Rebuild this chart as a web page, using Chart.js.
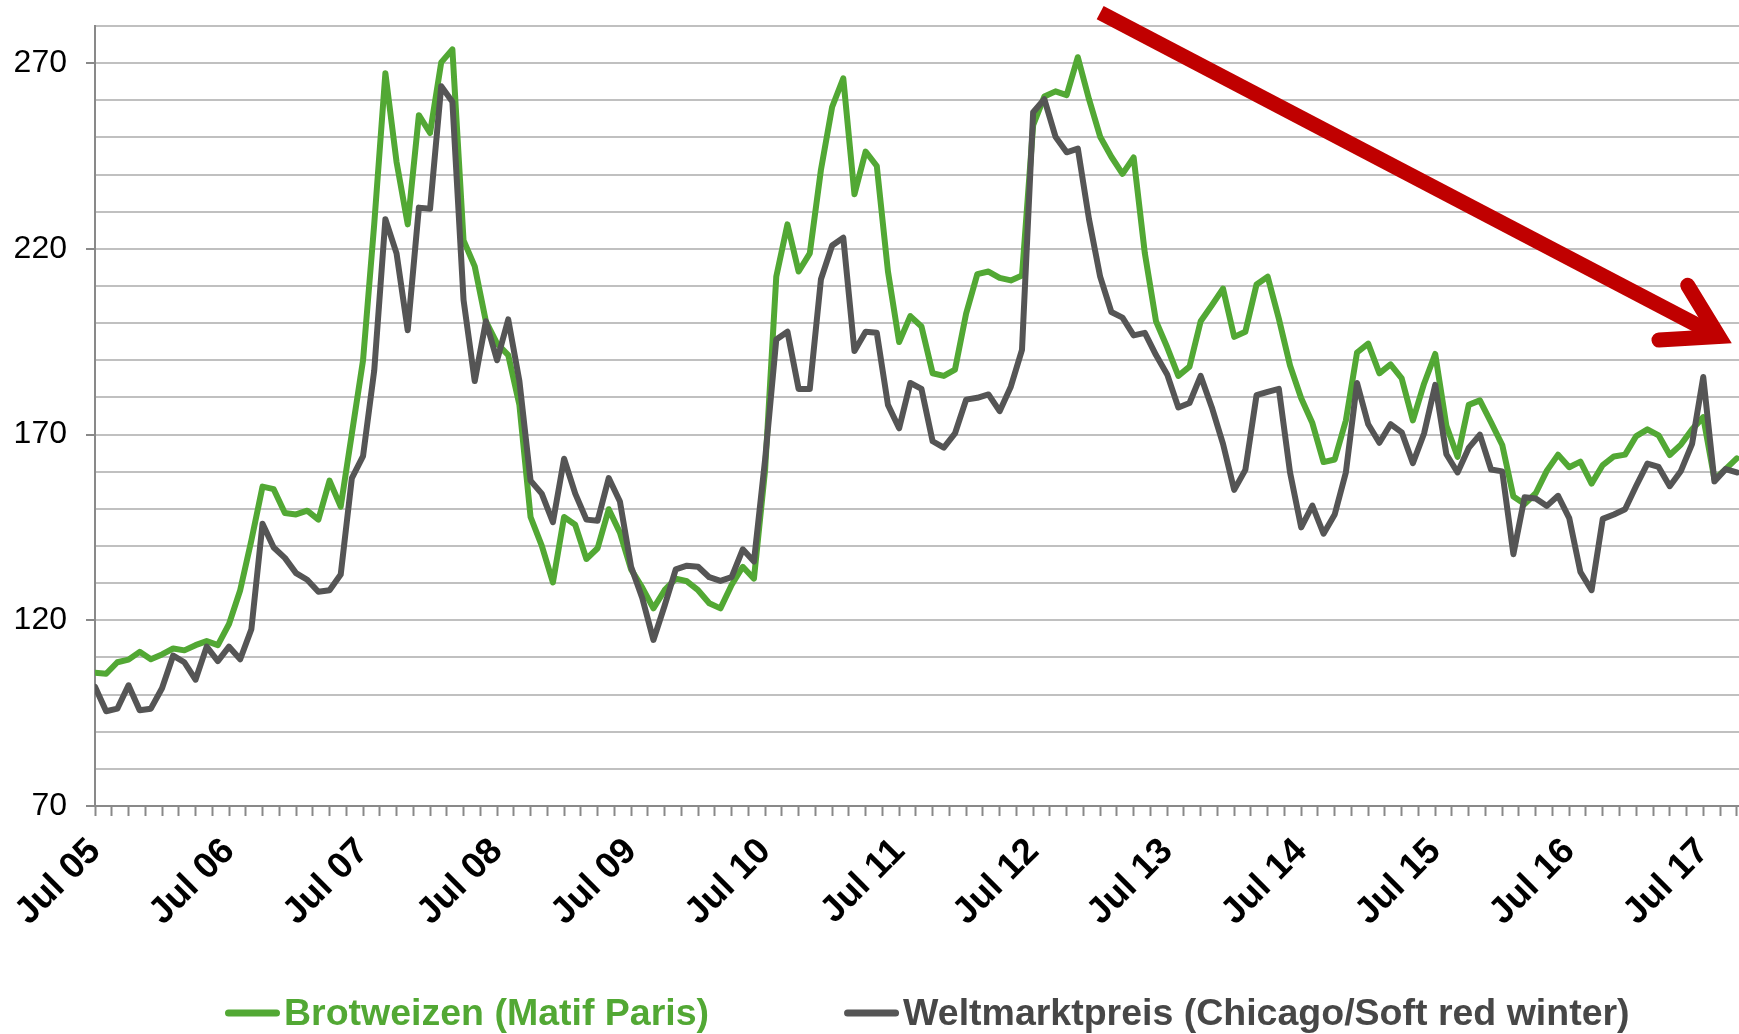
<!DOCTYPE html>
<html>
<head>
<meta charset="utf-8">
<title>Weizenpreise</title>
<script src="https://cdn.jsdelivr.net/npm/chart.js@4.4.1/dist/chart.umd.min.js"></script>
<style>
  html, body { margin: 0; padding: 0; background: #fff; }
  #chart { display: block; }
</style>
</head>
<body>
<canvas id="chart" width="1739" height="1034"></canvas>
<script>
// monthly prices, Jul 05 .. Oct 17 (one value per month)
var brotweizen = [
  105.9, 105.6, 108.7, 109.4, 111.5, 109.5, 110.8, 112.4, 111.9, 113.3, 114.4, 113.3,
  119.0, 128.1, 141.5, 156.0, 155.3, 148.9, 148.5, 149.5, 147.1, 157.6, 150.6, 170.3,
  190.0, 226.6, 267.3, 243.4, 226.6, 256.0, 251.2, 270.2, 273.7, 222.3, 215.3, 200.5,
  194.5, 191.4, 178.0, 147.8, 140.1, 130.2, 147.8, 145.7, 136.5, 139.4, 149.9, 143.6,
  133.7, 128.8, 123.2, 128.1, 131.2, 130.5, 128.1, 124.6, 123.2, 129.5, 134.4, 131.2,
  160.5, 212.5, 226.6, 213.9, 218.8, 241.3, 258.2, 265.9, 234.7, 246.2, 242.3, 213.9,
  194.9, 201.9, 199.1, 186.5, 185.8, 187.5, 202.6, 213.2, 213.9, 212.2, 211.5, 212.8,
  253.3, 261.0, 262.4, 261.4, 271.6, 260.3, 250.2, 244.8, 240.2, 244.6, 218.8, 200.5,
  193.5, 185.8, 188.3, 200.5, 204.8, 209.3, 196.3, 197.7, 210.4, 212.5, 201.2, 188.6,
  179.8, 173.1, 162.6, 163.3, 173.8, 192.1, 194.5, 186.5, 188.9, 185.1, 173.8, 183.7,
  191.7, 172.4, 164.0, 178.0, 179.2, 173.3, 167.2, 153.3, 151.3, 154.2, 160.3, 164.6,
  161.2, 162.7, 156.8, 161.8, 164.1, 164.6, 169.6, 171.4, 169.8, 164.5, 167.3, 171.4,
  174.7, 158.0, 160.7, 163.6
];
var weltmarkt = [
  102.1, 95.5, 96.2, 102.5, 95.8, 96.2, 101.7, 110.5, 108.7, 104.0, 112.9, 109.0,
  112.9, 109.5, 117.6, 146.0, 139.6, 136.8, 132.7, 130.9, 127.7, 128.1, 132.3, 158.3,
  164.2, 187.2, 228.0, 218.8, 198.1, 231.1, 230.8, 263.8, 259.6, 206.2, 184.4, 200.5,
  190.0, 201.0, 184.4, 157.6, 154.1, 146.4, 163.5, 154.1, 147.1, 146.8, 158.3, 152.0,
  134.4, 126.0, 114.7, 123.9, 133.7, 134.7, 134.4, 131.6, 130.6, 131.6, 139.1, 135.8,
  163.3, 195.6, 197.7, 182.3, 182.3, 211.8, 220.9, 223.0, 192.5, 197.7, 197.4, 178.0,
  171.7, 183.9, 182.3, 168.2, 166.5, 170.3, 179.4, 179.9, 180.8, 176.3, 182.9, 192.8,
  256.8, 260.3, 250.2, 246.0, 247.0, 228.0, 212.5, 203.0, 201.5, 196.7, 197.4, 191.4,
  186.2, 177.3, 178.5, 185.8, 177.3, 167.5, 155.1, 160.5, 180.6, 181.5, 182.3, 159.8,
  145.0, 150.9, 143.3, 148.5, 159.8, 183.9, 172.8, 167.8, 172.8, 170.6, 162.3, 170.3,
  183.4, 164.7, 159.8, 166.4, 170.0, 160.6, 160.1, 137.8, 153.1, 152.8, 150.8, 153.5,
  147.5, 133.0, 128.1, 147.3, 148.5, 149.9, 156.2, 162.2, 161.3, 156.1, 160.2, 167.5,
  185.5, 157.4, 160.7, 159.8
];
var seriesNames = ['Brotweizen (Matif Paris)', 'Weltmarktpreis (Chicago/Soft red winter)'];

// x axis labels, one per July
var yearLabels = ['Jul 05', 'Jul 06', 'Jul 07', 'Jul 08', 'Jul 09', 'Jul 10', 'Jul 11',
                  'Jul 12', 'Jul 13', 'Jul 14', 'Jul 15', 'Jul 16', 'Jul 17'];
var yLabels = [70, 120, 170, 220, 270];

// red trend arrow, in data units [month index, price]
var trendArrow = { from: [90, 283.6], to: [145.4, 196.4] };

var FONT = '"Liberation Sans", Arial, Helvetica, sans-serif';
var GREEN = '#52a834';
var DARK = '#555555';
var AXIS = '#898989';

function toPoints(values) {
  return values.map(function (v, i) { return { x: i, y: v }; });
}

var decor = {
  id: 'decor',
  afterDraw: function (chart) {
    var ctx = chart.ctx;
    var xs = chart.scales.x, ys = chart.scales.y;

    // arrow
    var x1 = xs.getPixelForValue(trendArrow.from[0]), y1 = ys.getPixelForValue(trendArrow.from[1]);
    var x2 = xs.getPixelForValue(trendArrow.to[0]), y2 = ys.getPixelForValue(trendArrow.to[1]);
    var ang = Math.atan2(y2 - y1, x2 - x1);
    var head = 60, spread = 31 * Math.PI / 180;
    ctx.save();
    ctx.strokeStyle = '#c00000';
    ctx.lineWidth = 15;
    ctx.lineCap = 'butt';
    ctx.beginPath();
    ctx.moveTo(x1, y1);
    ctx.lineTo(x2, y2);
    ctx.stroke();
    ctx.lineCap = 'round';
    ctx.lineJoin = 'miter';
    ctx.miterLimit = 10;
    ctx.beginPath();
    ctx.moveTo(x2 - head * Math.cos(ang - spread), y2 - head * Math.sin(ang - spread));
    ctx.lineTo(x2, y2);
    ctx.lineTo(x2 - head * Math.cos(ang + spread), y2 - head * Math.sin(ang + spread));
    ctx.stroke();
    ctx.restore();

    // legend below the axis labels
    ctx.save();
    ctx.font = 'bold 37.5px ' + FONT;
    ctx.textBaseline = 'alphabetic';
    ctx.lineCap = 'round';
    ctx.lineWidth = 7;
    var lx = 225, ly = 1013;
    [0, 1].forEach(function (k) {
      var ds = chart.data.datasets[k];
      ctx.strokeStyle = ds.borderColor;
      ctx.beginPath();
      ctx.moveTo(lx + 3.5, ly);
      ctx.lineTo(lx + 51.5, ly);
      ctx.stroke();
      ctx.fillStyle = ds.legendText;
      ctx.fillText(ds.label, lx + 59, 1025);
      lx += 59 + ctx.measureText(ds.label).width + 135;
    });
    ctx.restore();
  }
};

new Chart(document.getElementById('chart'), {
  type: 'line',
  data: {
    datasets: [
      {
        label: seriesNames[0],
        data: toPoints(brotweizen),
        borderColor: GREEN,
        legendText: GREEN,
        borderWidth: 6,
        borderJoinStyle: 'round',
        borderCapStyle: 'round',
        pointRadius: 0,
        tension: 0,
        order: 1
      },
      {
        label: seriesNames[1],
        data: toPoints(weltmarkt),
        borderColor: DARK,
        legendText: '#474747',
        borderWidth: 6,
        borderJoinStyle: 'round',
        borderCapStyle: 'round',
        pointRadius: 0,
        tension: 0,
        order: 0
      }
    ]
  },
  options: {
    responsive: false,
    animation: false,
    devicePixelRatio: 1,
    layout: { padding: { top: 26, left: 0, right: 0, bottom: 0 } },
    plugins: {
      legend: { display: false },
      tooltip: { enabled: false }
    },
    scales: {
      x: {
        type: 'linear',
        min: 0,
        max: 147.2,
        afterFit: function (scale) {
          scale.height = 228;
          scale.paddingLeft = 0;
          scale.paddingRight = 0;
        },
        grid: {
          drawOnChartArea: false,
          drawTicks: true,
          tickLength: 10,
          tickWidth: 2,
          tickColor: AXIS
        },
        border: { color: AXIS, width: 2 },
        ticks: {
          stepSize: 1.5,
          autoSkip: false,
          includeBounds: false,
          minRotation: 45,
          maxRotation: 45,
          padding: 14,
          color: '#000',
          font: { family: FONT, size: 36.5, weight: 'bold' },
          callback: function (value) {
            var k = value / 12;
            return Number.isInteger(k) ? yearLabels[k] : '';
          }
        }
      },
      y: {
        min: 70,
        max: 280,
        afterFit: function (scale) {
          scale.width = 95;
          scale.paddingTop = 0;
          scale.paddingBottom = 0;
        },
        grid: {
          lineWidth: 2,
          color: function (c) {
            return c.tick && c.tick.value === 70 ? 'rgba(0,0,0,0)' : '#c0c0c0';
          },
          tickLength: 9,
          tickWidth: 2,
          tickColor: function (c) {
            return c.tick && yLabels.indexOf(c.tick.value) >= 0 ? AXIS : 'rgba(0,0,0,0)';
          }
        },
        border: { color: AXIS, width: 2 },
        ticks: {
          stepSize: 10,
          autoSkip: false,
          padding: 19,
          color: '#000',
          font: { family: FONT, size: 32 },
          callback: function (value) {
            return yLabels.indexOf(value) >= 0 ? String(value) : '';
          }
        }
      }
    }
  },
  plugins: [decor]
});
</script>
</body>
</html>
